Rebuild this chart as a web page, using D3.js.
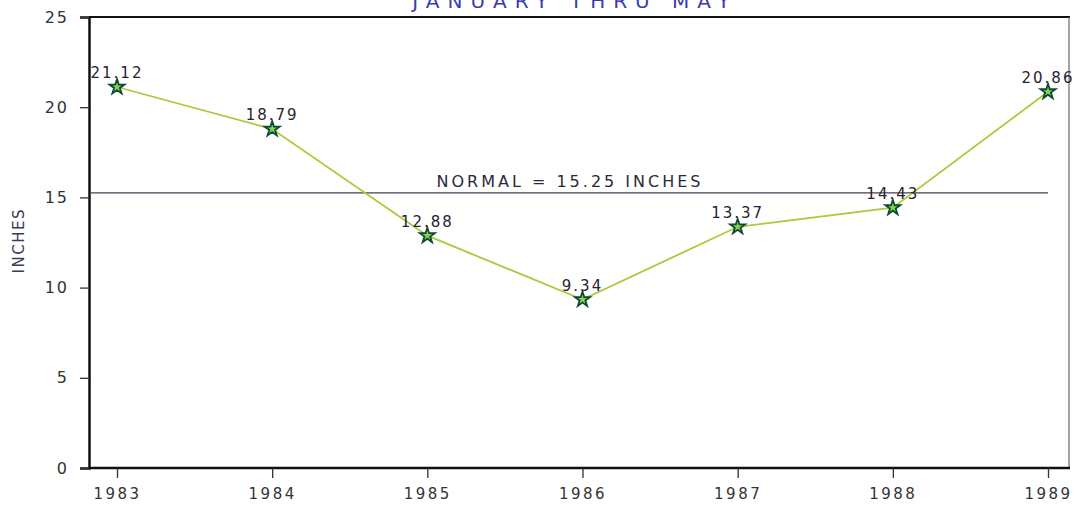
<!DOCTYPE html>
<html>
<head>
<meta charset="utf-8">
<script src="https://cdn.jsdelivr.net/npm/d3@7"></script>
<style>
  body { margin: 0; background: #fff; }
  svg text { font-family: "DejaVu Sans", sans-serif; }
</style>
</head>
<body>
<div id="chart"></div>
<script>
// data
const years = [1983, 1984, 1985, 1986, 1987, 1988, 1989];
const rainfall = [21.12, 18.79, 12.88, 9.34, 13.37, 14.43, 20.86];
const yTicks = [0, 5, 10, 15, 20, 25];
const normal = 15.25;
const title = "JANUARY  THRU  MAY";

const W = 1075, H = 508;
const margin = { top: 17, right: 5, bottom: 40, left: 89 };

const svg = d3.select("#chart").append("svg")
    .attr("width", W)
    .attr("height", H);

const x = d3.scalePoint()
    .domain(years)
    .range([117, 1048]);

const y = d3.scaleLinear()
    .domain([0, 25])
    .range([H - margin.bottom, margin.top]);

// frame: top and right borders
svg.append("line")
    .attr("x1", margin.left).attr("x2", W - margin.right)
    .attr("y1", margin.top).attr("y2", margin.top)
    .attr("stroke", "#111").attr("stroke-width", 2);
svg.append("line")
    .attr("x1", W - margin.right - 1).attr("x2", W - margin.right - 1)
    .attr("y1", margin.top).attr("y2", y(0))
    .attr("stroke", "#666").attr("stroke-width", 1.2);

// y axis
const yAxis = svg.append("g")
    .attr("transform", `translate(${margin.left},0)`)
    .call(d3.axisLeft(y).tickValues(yTicks).tickSize(9).tickPadding(11));
yAxis.select(".domain").attr("stroke", "#111").attr("stroke-width", 2.5);
yAxis.selectAll(".tick line").attr("stroke", "#333").attr("stroke-width", 1.3);
yAxis.selectAll(".tick text")
    .attr("fill", "#333")
    .style("font-size", "16px")
    .style("letter-spacing", "2px");

// x axis
const xAxis = svg.append("g")
    .attr("transform", `translate(0,${y(0)})`)
    .call(d3.axisBottom(x).tickSize(10).tickPadding(10).tickSizeOuter(0));
xAxis.select(".domain")
    .attr("d", `M${margin.left},0H${W - margin.right}`)
    .attr("stroke", "#111").attr("stroke-width", 2.5);
xAxis.selectAll(".tick line").attr("stroke", "#333").attr("stroke-width", 1.3);
xAxis.selectAll(".tick text")
    .attr("fill", "#333")
    .style("font-size", "15px")
    .style("letter-spacing", "2.5px");

// y label
svg.append("text")
    .attr("transform", `translate(24,${y(12.6)}) rotate(-90)`)
    .attr("text-anchor", "middle")
    .attr("fill", "#3a3a5a")
    .style("font-size", "15px")
    .style("letter-spacing", "1.5px")
    .text("INCHES");

// title (cut off at top, as in the scan)
svg.append("text")
    .attr("x", 575)
    .attr("y", 8)
    .attr("text-anchor", "middle")
    .attr("fill", "#3b3bb0")
    .style("font-size", "20px")
    .style("letter-spacing", "8px")
    .text(title);

// normal line
svg.append("line")
    .attr("x1", margin.left + 2).attr("x2", x(1989))
    .attr("y1", y(normal)).attr("y2", y(normal))
    .attr("stroke", "#4a3a55").attr("stroke-width", 1.3);
svg.append("text")
    .attr("x", 570)
    .attr("y", y(normal) - 6)
    .attr("text-anchor", "middle")
    .attr("fill", "#2a2a3a")
    .style("font-size", "16px")
    .style("letter-spacing", "3px")
    .text(`NORMAL  =  ${normal.toFixed(2)}  INCHES`);

// data line
const pts = years.map((yr, i) => ({ year: yr, value: rainfall[i] }));

svg.append("path")
    .datum(pts)
    .attr("fill", "none")
    .attr("stroke", "#a6cc3a")
    .attr("stroke-width", 1.8)
    .attr("d", d3.line().x(d => x(d.year)).y(d => y(d.value)));

// star markers
const star = d3.symbol().type(d3.symbolStar).size(70);
svg.selectAll(".pt")
    .data(pts)
    .join("path")
    .attr("class", "pt")
    .attr("transform", d => `translate(${x(d.year)},${y(d.value)})`)
    .attr("d", star)
    .attr("fill", "#8fcf4a")
    .attr("stroke", "#0d4a3a")
    .attr("stroke-width", 1.8);

// value labels
svg.selectAll(".lbl")
    .data(pts)
    .join("text")
    .attr("class", "lbl")
    .attr("x", d => x(d.year))
    .attr("y", d => y(d.value) - 9)
    .attr("text-anchor", "middle")
    .attr("fill", "#2a2230")
    .style("font-size", "15px")
    .style("letter-spacing", "2px")
    .text(d => d.value.toFixed(2));
</script>
</body>
</html>
